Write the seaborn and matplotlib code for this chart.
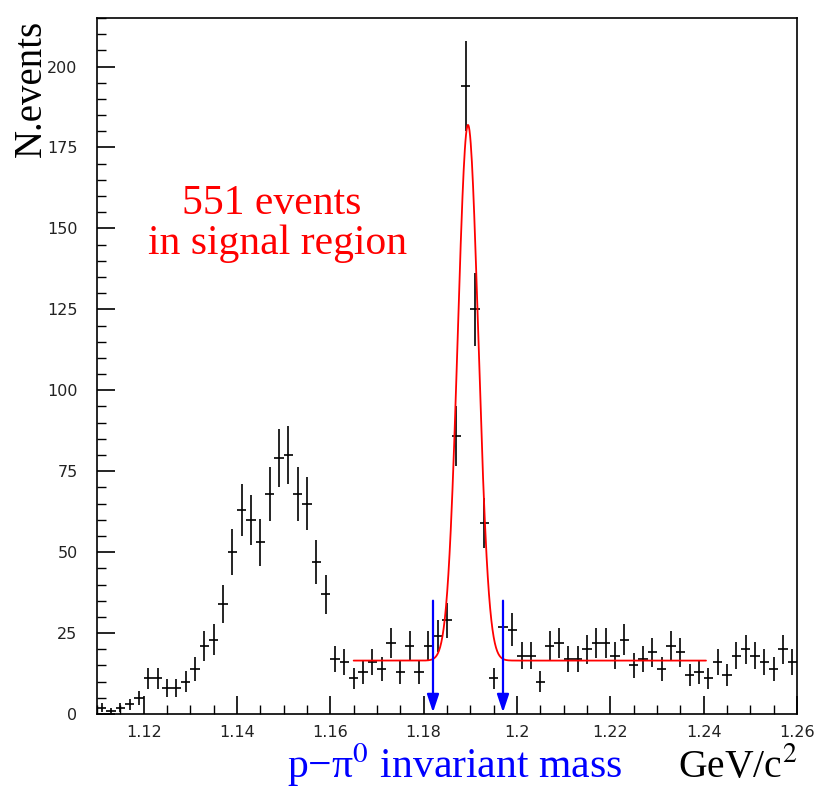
import numpy as np
import pandas as pd
import matplotlib
matplotlib.use("Agg")
import matplotlib.pyplot as plt
import seaborn as sns
from matplotlib.ticker import MultipleLocator

# ---- data ----
bin_centers = [round(1.111 + 0.002 * i, 3) for i in range(75)]
counts = [2, 1, 2, 3, 5, 11, 11, 8, 8, 10,
          14, 21, 23, 34, 50, 63, 60, 53, 68, 79,
          80, 68, 65, 47, 37, 17, 16, 11, 13, 16,
          14, 22, 13, 21, 13, 21, 24, 29, 86, 194,
          125, 59, 11, 27, 26, 18, 18, 10, 21, 22,
          17, 17, 20, 22, 22, 18, 23, 15, 17, 19,
          14, 21, 19, 12, 13, 11, 16, 12, 18, 20,
          18, 16, 14, 20, 16]
bin_width = 0.002

# fit parameters (gaussian + constant)
fit_bg = 16.5
fit_amp = 165.5
fit_mu = 1.1895
fit_sigma = 0.0022
fit_range = (1.165, 1.2405)

# signal region arrows
arrow_x = [1.182, 1.197]
arrow_top = 35
arrow_tip = 0.5

x_ticks = [1.12, 1.14, 1.16, 1.18, 1.20, 1.22, 1.24, 1.26]
x_tick_labels = ["1.12", "1.14", "1.16", "1.18", "1.2", "1.22", "1.24", "1.26"]

df = pd.DataFrame({"mass": bin_centers, "n": counts})
df["err"] = np.sqrt(df["n"])

xfit = np.linspace(fit_range[0], fit_range[1], 600)
fit_df = pd.DataFrame({"mass": xfit,
                       "f": fit_bg + fit_amp * np.exp(-0.5 * ((xfit - fit_mu) / fit_sigma) ** 2)})

sns.set_theme(style="ticks")
plt.rcParams["font.family"] = ["DejaVu Sans"]
plt.rcParams["mathtext.fontset"] = "stix"

fig = plt.figure(figsize=(8.22, 7.9), dpi=100)
ax = fig.add_axes([97 / 822, 1 - 714 / 790, 700 / 822, 696 / 790])

ax.errorbar(df["mass"], df["n"], xerr=bin_width / 2, yerr=df["err"],
            fmt="none", ecolor="black", elinewidth=1.2, capsize=0)
sns.lineplot(data=fit_df, x="mass", y="f", ax=ax, color="#ff0000", lw=1.3)

for xa in arrow_x:
    ax.annotate("", xy=(xa, arrow_tip), xytext=(xa, arrow_top),
                arrowprops=dict(arrowstyle="-|>,head_length=0.9,head_width=0.3",
                                color="#0000ff", lw=1.6, shrinkA=0, shrinkB=0))

ax.set_xlim(1.11, 1.26)
ax.set_ylim(0, 215)
ax.set_xlabel("")
ax.set_ylabel("")
ax.xaxis.set_minor_locator(MultipleLocator(0.005))
ax.yaxis.set_major_locator(MultipleLocator(25))
ax.yaxis.set_minor_locator(MultipleLocator(5))
ax.set_xticks(x_ticks)
ax.set_xticklabels(x_tick_labels)
ax.tick_params(which="both", direction="in", top=False, right=False, color="black",
               labelcolor="#222222")
ax.tick_params(which="major", length=13, width=1.2, labelsize=11.5, pad=8)
ax.tick_params(which="minor", length=6.5, width=1.0)
ax.tick_params(axis="y", which="major", pad=14)
for sp in ax.spines.values():
    sp.set_visible(True)
    sp.set_color("black")
    sp.set_linewidth(1.2)

serif = ["Liberation Serif", "DejaVu Serif"]
fig.text(272 / 822, 1 - 214 / 790, "551 events", color="#ff0000", fontsize=30,
         family=serif, ha="center", va="baseline")
fig.text(277.5 / 822, 1 - 254 / 790, "in signal region", color="#ff0000", fontsize=30,
         family=serif, ha="center", va="baseline")
fig.text(31 / 822, 1 - 20 / 790, "N.events", color="black", fontsize=28,
         family=serif, rotation=90, ha="center", va="top")
fig.text(454 / 822, 1 - 778 / 790, "p\u2212\u03c0$^{0}$ invariant mass", color="#0000ff",
         fontsize=30, family=serif, ha="center", va="baseline")
fig.text(738 / 822, 1 - 777 / 790, "GeV/c$^{2}$", color="black", fontsize=28.5,
         family=serif, ha="center", va="baseline")

fig.savefig("out.png", dpi=100, facecolor="white")
